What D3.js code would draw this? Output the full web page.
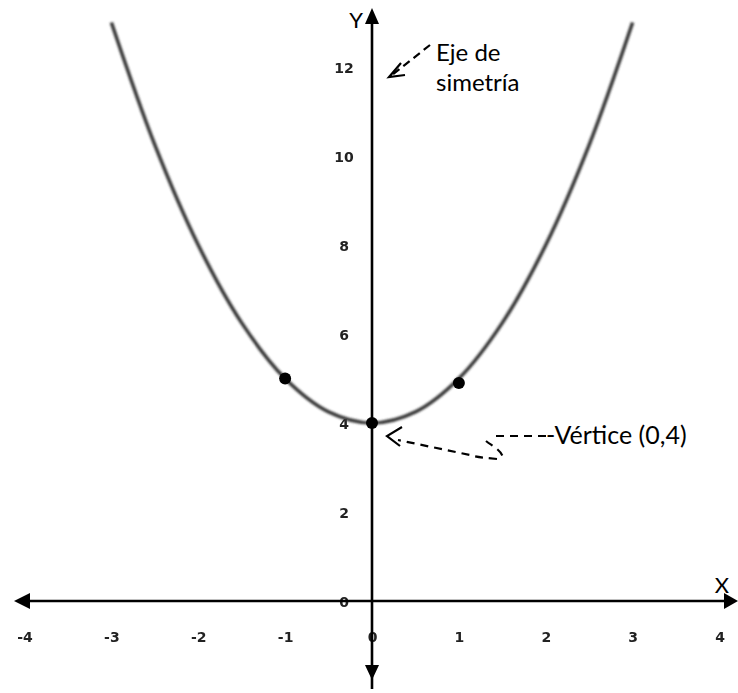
<!DOCTYPE html>
<html><head><meta charset="utf-8">
<script src="https://cdn.jsdelivr.net/npm/d3@7"></script>
<style>
html,body{margin:0;padding:0;background:#fff;}
svg{display:block;}
</style></head>
<body>
<svg id="c" width="738" height="693"></svg>
<script>
// ---- data ----
const xTicks = [-4,-3,-2,-1,0,1,2,3,4];
const yTicks = [0,2,4,6,8,10,12];
const curveX = [-3,-2.5,-2,-1.5,-1,-0.5,0,0.5,1,1.5,2,2.5,3];
const curveY = [13,10.25,8,6.25,5,4.25,4,4.25,5,6.25,8,10.25,13];
const pointX = [-1,0,1];
const pointY = [5,4,4.9];
const axisLabels = ["X","Y"];
const noteSym = ["Eje de","simetría"];
const noteVertex = "-Vértice (0,4)";

const svg = d3.select("#c");
const x = d3.scaleLinear().domain([-4,4]).range([24.5,719.5]);
const y = d3.scaleLinear().domain([0,12]).range([601,67]);

const defs = svg.append("defs");
defs.append("filter").attr("id","soft").append("feGaussianBlur").attr("stdDeviation",0.8);
defs.append("filter").attr("id","soft2").append("feGaussianBlur").attr("stdDeviation",0.35);

const tf = d => String(d);
const tickFont = "'DejaVu Sans', Verdana, sans-serif";

// y tick labels (under axes)
const yAx = svg.append("g").attr("transform",`translate(${x(0)-28},0)`)
  .call(d3.axisLeft(y).tickValues(yTicks).tickSize(0).tickPadding(0).tickFormat(tf));
yAx.select(".domain").remove();
yAx.selectAll("text").attr("text-anchor","middle").attr("dy","0.36em").attr("filter","url(#soft2)")
  .style("font-family",tickFont).style("font-weight","bold")
  .style("font-size","14px").style("fill","#222");

// x tick labels
const xAx = svg.append("g").attr("transform",`translate(0,${y(0)+36})`)
  .call(d3.axisBottom(x).tickValues(xTicks).tickSize(0).tickPadding(0).tickFormat(tf));
xAx.select(".domain").remove();
xAx.selectAll("text").attr("dy","0.36em").attr("filter","url(#soft2)")
  .style("font-family",tickFont).style("font-weight","bold")
  .style("font-size","14px").style("fill","#222");

// axes lines
const ax = svg.append("g").attr("stroke","#000").attr("stroke-width",2.6);
const y0 = y(0), x0 = x(0);
ax.append("line").attr("x1",28).attr("x2",728).attr("y1",y0).attr("y2",y0);
ax.append("line").attr("x1",x0).attr("x2",x0).attr("y1",22).attr("y2",689);
const arr = svg.append("g").attr("fill","#000");
arr.append("path").attr("d",`M14,${y0} L30,${y0-8} L30,${y0+8} Z`);
arr.append("path").attr("d",`M738,${y0} L724,${y0-8} L724,${y0+8} Z`);
arr.append("path").attr("d",`M${x0},8 L${x0-7},24 L${x0+7},24 Z`);
arr.append("path").attr("d",`M${x0},680 L${x0-7},665 L${x0+7},665 Z`);

// axis letters
const lf = "Lato, 'Open Sans', sans-serif";
svg.append("text").attr("x",722).attr("y",593).attr("text-anchor","middle")
  .style("font-family",lf).style("font-size","22px").text(axisLabels[0]);
svg.append("text").attr("x",356).attr("y",28).attr("text-anchor","middle")
  .style("font-family",lf).style("font-size","22px").text(axisLabels[1]);

// curve
const line = d3.line().x((d,i)=>x(curveX[i])).y((d,i)=>y(curveY[i])).curve(d3.curveCatmullRom.alpha(0.5));
svg.append("path").datum(curveX).attr("d",line).attr("fill","none")
  .attr("stroke","#383838").attr("stroke-width",3.6).attr("filter","url(#soft)");

// points
svg.append("g").selectAll("circle").data(pointX).join("circle")
  .attr("cx",d=>x(d)).attr("cy",(d,i)=>y(pointY[i])).attr("r",6).attr("fill","#000");

// annotations
const ann = svg.append("g").attr("fill","none").attr("stroke","#000").attr("stroke-width",2.2);
ann.append("path").attr("d","M430,45 L392,75").attr("stroke-dasharray","8,5");
ann.append("path").attr("d","M401,63 L389,77 L405,75");
ann.append("path").attr("d","M546,436 L490,436 M486,441 C492,446 500,449 503,457 M497,459 C486,458 476,457 470,455 L398,440").attr("stroke-dasharray","8,6");
ann.append("path").attr("d","M402,427 L387,436 L400,446");

svg.append("text").attr("x",436).attr("y",61).style("font-family",lf).style("font-size","24px").text(noteSym[0]);
svg.append("text").attr("x",436).attr("y",91).style("font-family",lf).style("font-size","24px").text(noteSym[1]);
svg.append("text").attr("x",546).attr("y",444).style("font-family",lf).style("font-size","25px").text(noteVertex);
</script>
</body></html>
